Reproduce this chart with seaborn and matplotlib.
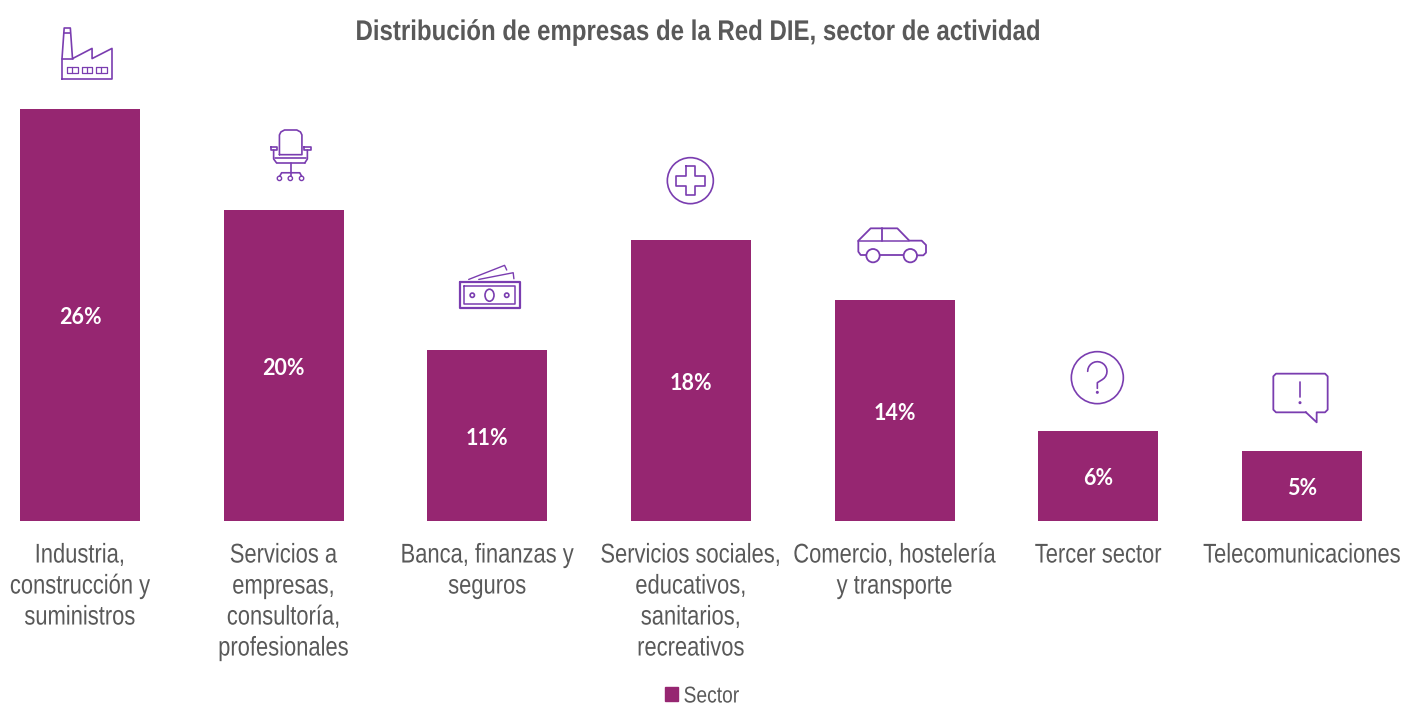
import matplotlib
matplotlib.use("Agg")
import matplotlib.pyplot as plt
import matplotlib.patches as mp
import matplotlib.patheffects as pe
from matplotlib.transforms import Affine2D, Bbox
import numpy as np
import pandas as pd
import seaborn as sns

categories = ["Industria,\nconstrucción y\nsuministros",
              "Servicios a\nempresas,\nconsultoría,\nprofesionales",
              "Banca, finanzas y\nseguros",
              "Servicios sociales,\neducativos,\nsanitarios,\nrecreativos",
              "Comercio, hostelería\ny transporte",
              "Tercer sector",
              "Telecomunicaciones"]
values = [26.0, 19.6, 10.8, 17.75, 13.95, 5.7, 4.4]
value_labels = ["26%", "20%", "11%", "18%", "14%", "6%", "5%"]
series_name = "Sector"
title = "Distribución de empresas de la Red DIE, sector de actividad"

BAR = "#962671"
GREY = "#595959"
ICON = "#7A3DB0"

W, H = 1405, 704
sns.set_theme(style="white")
plt.rcParams["font.family"] = ["Liberation Sans", "DejaVu Sans"]
fig = plt.figure(figsize=(W / 100, H / 100), dpi=100, facecolor="white")


class Condense(pe.AbstractPathEffect):
    """Squeeze a text horizontally about its anchor (stand-in for a narrow typeface)."""
    def __init__(self, text, sx):
        super().__init__()
        self.text, self.sx = text, sx

    def anchor(self):
        return self.text.get_transform().transform(self.text.get_position())[0]

    def draw_path(self, renderer, gc, tpath, affine, rgbFace=None):
        cx = self.anchor()
        squeezed = affine + Affine2D().translate(-cx, 0).scale(self.sx, 1).translate(cx, 0)
        renderer.draw_path(gc, tpath, squeezed, rgbFace)


def condense(text, sx):
    effect = Condense(text, sx)
    text.set_path_effects([effect])
    natural = text.get_window_extent

    def extent(renderer=None, dpi=None):
        b = natural(renderer, dpi)
        cx = effect.anchor()
        return Bbox.from_extents(cx + (b.x0 - cx) * sx, b.y0, cx + (b.x1 - cx) * sx, b.y1)

    text.get_window_extent = extent


BASE = 521
ax = fig.add_axes([0, (H - BASE) / H, 1, BASE / H])
df = pd.DataFrame({"cat": categories, "val": values, "serie": series_name})
sns.barplot(data=df, x="cat", y="val", hue="serie", palette=[BAR], width=120 / 203.67,
            dodge=False, saturation=1, ax=ax, legend=False, linewidth=0)
ax.set_xlim(-80 / 203.67, (W - 80) / 203.67)
ax.set_ylim(0, BASE / (412 / 26))
ax.set_xlabel(""); ax.set_ylabel(""); ax.set_yticks([])
ax.tick_params(axis="x", length=0, pad=15.5, labelsize=19.5, labelcolor=GREY)
for lab in ax.get_xticklabels():
    lab.set_linespacing(1.25)
    condense(lab, 0.81)
for s in ax.spines.values():
    s.set_visible(False)
for i, (v, t) in enumerate(zip(values, value_labels)):
    ax.text(i, v / 2 - 0.17, t, ha="center", va="center", color="white",
            fontsize=15.5, fontweight="bold", family="Lato")

title_text = fig.text(698 / W, 1 - 33 / H, title, ha="center", va="center", fontsize=20.5,
                      fontweight="bold", color=GREY)
condense(title_text, 0.844)

handle = mp.Patch(color=BAR, label=series_name)
leg = fig.legend(handles=[handle], loc="center left", bbox_to_anchor=(665 / W, 1 - 696 / H), frameon=False,
                 fontsize=16.5, labelcolor=GREY, handlelength=0.57, handleheight=0.57, handletextpad=0.24,
                 borderpad=0, borderaxespad=0)
for t in leg.get_texts():
    condense(t, 0.84)

# decorative pictograms, overlay in pixel space
ic = fig.add_axes([0, 0, 1, 1], zorder=5)
ic.set_xlim(0, W); ic.set_ylim(H, 0); ic.axis("off"); ic.patch.set_alpha(0)


def mapper(x0, y0, sx, sy):
    return lambda p: (x0 + p[0] * sx, y0 + p[1] * sy)


def poly(m, pts, close=False, lw=1.2):
    q = [m(p) for p in pts]
    if close:
        q.append(q[0])
    ic.plot(*zip(*q), color=ICON, lw=lw, solid_capstyle="round", solid_joinstyle="round")


def rect(m, a, b, c, d, lw=1.2):
    poly(m, [(a, b), (c, b), (c, d), (a, d)], True, lw)


def circ(m, x, y, r, sx, lw=1.2):
    cx, cy = m((x, y))
    ic.add_patch(mp.Circle((cx, cy), r * sx, fill=False, ec=ICON, lw=lw))


# factory
sx, sy = 50 / 138, 51 / 150
m = mapper(62 - 175 * sx, 28 - 85 * sy, sx, sy)
poly(m, [(175, 235), (175, 175), (181, 85), (198, 85), (204, 175), (258, 145), (258, 175), (313, 145), (313, 235)], True)
poly(m, [(175, 175), (204, 175)]); poly(m, [(180, 100), (198, 100)])
for a, c in [(188, 218), (229, 258), (268, 298)]:
    rect(m, a, 200, c, 216, 0.9)
    poly(m, [((a + c) / 2, 200), ((a + c) / 2, 216)], lw=0.9)

# chair
sx, sy = 41 / 113, 51 / 155
m = mapper(270 - 758 * sx, 130 - 390 * sy, sx, sy)
poly(m, [(784, 465), (784, 405), (788, 396), (798, 390), (832, 390), (842, 396), (846, 405), (846, 465)], True)
poly(m, [(772, 476), (858, 476)]); poly(m, [(776, 490), (854, 490)])
rect(m, 760, 442, 777, 451); rect(m, 853, 442, 870, 451)
poly(m, [(768, 451), (768, 478), (776, 490)]); poly(m, [(861, 451), (861, 478), (854, 490)])
poly(m, [(815, 490), (815, 530)])
poly(m, [(785, 530), (790, 520), (840, 520), (845, 530)])
for x in (784, 814, 845):
    circ(m, x, 537, 6, sx, 1.0)

# money
sx, sy = 61 / 170, 44 / 131
m = mapper(459 - 1285 * sx, 265 - 797 * sy, sx, sy)
rect(m, 1287, 848, 1454, 926, 1.6)
rect(m, 1298, 860, 1442, 914, 1.1)
circ(m, 1322, 887, 6, sx); circ(m, 1418, 887, 6, sx)
ic.add_patch(mp.Ellipse(m((1370, 887)), 9, 12, fill=False, ec=ICON, lw=1.2))
poly(m, [(1312, 840), (1412, 798), (1418, 812)], lw=1.0)
poly(m, [(1340, 840), (1436, 820), (1438, 838)], lw=1.0)

# health
m = mapper(640, 140, 1 / 3, 1 / 3)
circ(m, 151, 122, 69, 1 / 3)
poly(m, [(137, 78), (166, 78), (166, 108), (195, 108), (195, 137), (166, 137), (166, 165),
         (137, 165), (137, 137), (108, 137), (108, 108), (137, 108)], True)

# car
poly(m, [(678, 345), (662, 345), (655, 335), (655, 302), (692, 265), (772, 265), (808, 302), (845, 302),
         (858, 315), (858, 338), (850, 346), (832, 346)], lw=1.3)
poly(m, [(720, 345), (790, 345)], lw=1.3); poly(m, [(655, 302), (808, 302)], lw=1.1)
poly(m, [(727, 265), (727, 302)], lw=1.3)
circ(m, 699, 347, 20, 1 / 3, 1.3); circ(m, 811, 347, 20, 1 / 3, 1.3)

# question
m = mapper(1050, 340, 1 / 3, 1 / 3)
circ(m, 142, 113, 78, 1 / 3)
ang = np.radians(np.arange(180, -61, -15))
hook = [(142 + 29 * np.cos(a), 94 - 29 * np.sin(a)) for a in ang]
poly(m, hook + [(142, 128), (142, 145)])
circ(m, 142, 157, 2, 1 / 3, 1.2)

# speech bubble
poly(m, [(768, 217), (800, 247), (800, 217), (825, 217), (833, 209), (833, 109), (825, 101), (678, 101),
         (670, 109), (670, 209), (678, 217)], True, lw=1.3)
poly(m, [(750, 125), (750, 172)])
circ(m, 750, 188, 2, 1 / 3, 1.2)

fig.savefig("out.png", dpi=100, facecolor="white")
